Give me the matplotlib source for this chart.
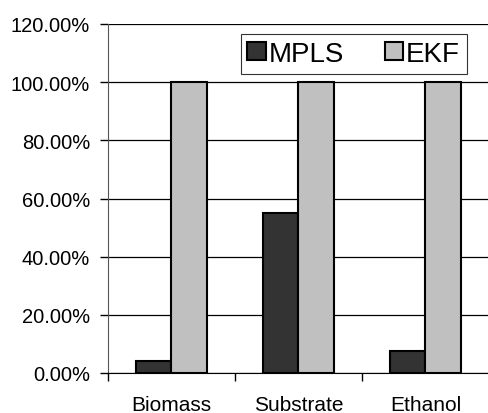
import matplotlib.pyplot as plt
import numpy as np
from matplotlib.ticker import FuncFormatter

plt.rcParams['font.family'] = ['Liberation Sans', 'DejaVu Sans']

categories = ['Biomass', 'Substrate', 'Ethanol']
mpls = [4.1, 55.0, 7.5]
ekf = [100.0, 100.0, 100.0]

fig = plt.figure(figsize=(4.89, 4.14), dpi=100)
ax = fig.add_axes([108 / 489, 40 / 414, 381 / 489, 349 / 414])

x = np.arange(len(categories))
w = 0.28
ax.bar(x - w / 2, mpls, w, color='#333333', edgecolor='black', linewidth=1.5,
       label='MPLS', zorder=3)
ax.bar(x + w / 2, ekf, w, color='#c0c0c0', edgecolor='black', linewidth=1.5,
       label='EKF', zorder=3)

ax.set_xlim(-0.5, 2.5)
ax.set_ylim(0, 120)
ax.set_yticks(np.arange(0, 121, 20))
ax.yaxis.set_major_formatter(FuncFormatter(lambda v, p: f'{v:.2f}%'))
ax.yaxis.grid(True, color='black', linewidth=0.9, zorder=0)

# category ticks sit between groups, labels centred under groups
ax.set_xticks([-0.5, 0.5, 1.5, 2.5])
ax.set_xticklabels([])
ax.set_xticks(x, minor=True)
ax.set_xticklabels(categories, minor=True)
ax.tick_params(axis='x', which='minor', length=0, pad=16, labelsize=15)
ax.tick_params(axis='x', which='major', length=6, width=1, direction='out')
ax.tick_params(axis='y', length=6, width=1, labelsize=14.5, pad=7)

for s in ['top', 'right']:
    ax.spines[s].set_visible(False)
ax.spines['left'].set_color('#555555')
ax.spines['bottom'].set_color('black')

leg = ax.legend(loc='upper right', bbox_to_anchor=(467 / 489, 1 - 35 / 414),
                bbox_transform=fig.transFigure, borderaxespad=0, ncol=2,
                fontsize=20, frameon=True, fancybox=False, edgecolor='black',
                handlelength=0.65, handleheight=0.65, handletextpad=0.1,
                columnspacing=1.5, borderpad=0.25)
leg.get_frame().set_linewidth(0.8)
for h in leg.legend_handles:
    h.set_linewidth(1.5)

plt.savefig('out.png', dpi=100)
